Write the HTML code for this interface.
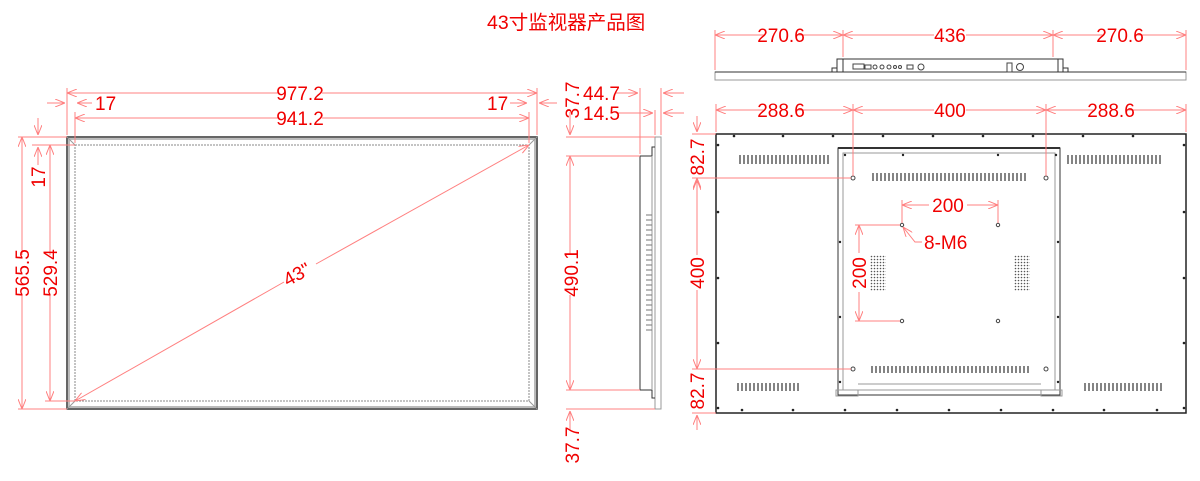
<!DOCTYPE html>
<html><head><meta charset="utf-8"><style>
html,body{margin:0;padding:0;background:#fff;width:1200px;height:481px;overflow:hidden}
svg{display:block}
.t{font-family:"Liberation Sans Narrow","Liberation Sans",sans-serif;font-size:19px;fill:#f00000}
.d{stroke:#ff8080;stroke-width:1;fill:none}
.k{stroke:#333;fill:none}
.g{stroke:#999;fill:none}
</style></head><body>
<svg width="1200" height="481" viewBox="0 0 1200 481" xmlns="http://www.w3.org/2000/svg">
<defs>
<marker id="a" markerWidth="10" markerHeight="8" refX="10" refY="4" orient="auto-start-reverse" markerUnits="userSpaceOnUse"><path d="M0,0 L10,4 L0,8" fill="none" stroke="#ff8080"/></marker>
<pattern id="p" width="3" height="3" patternUnits="userSpaceOnUse"><circle cx="1.5" cy="1.5" r="0.8" fill="#555"/></pattern>
</defs>
<text x="487" y="29" style="font-family:'Liberation Sans','Noto Sans CJK SC',sans-serif;font-size:19.5px;fill:#f00000">43寸监视器产品图</text>

<!-- FRONT VIEW -->
<rect x="67" y="137" width="470" height="272" class="k" stroke-width="1.5"/>
<rect x="69" y="139" width="466" height="268" stroke="#bbb" fill="none" stroke-width="2"/>
<rect x="75" y="145" width="454" height="256" stroke="#888" fill="none" stroke-dasharray="2,1"/>
<path d="M67 137L75 145M537 137L529 145M67 409L75 401M537 409L529 401" class="g"/>
<path d="M67 88V135M537 88V135M75 112V143M529 112V143" class="d"/>
<path d="M67 93H278M322 93H537" class="d" marker-start="url(#a)" marker-end="url(#a)"/>
<text class="t" x="300" y="100" text-anchor="middle">977.2</text>
<path d="M75 118H278M322 118H529" class="d" marker-start="url(#a)" marker-end="url(#a)"/>
<text class="t" x="300" y="125" text-anchor="middle">941.2</text>
<path d="M47 103H65" class="d" marker-end="url(#a)"/><path d="M92 103H77" class="d" marker-end="url(#a)"/>
<text class="t" x="95" y="110">17</text>
<path d="M510 103H527" class="d" marker-end="url(#a)"/><path d="M557 103H539" class="d" marker-end="url(#a)"/>
<text class="t" x="487" y="110">17</text>
<path d="M18 137H67M18 409H67M32 145H75M45 401H75" class="d"/>
<path d="M22 137V255M22 295V409" class="d" marker-start="url(#a)" marker-end="url(#a)"/>
<text class="t" transform="translate(29 273) rotate(-90)" text-anchor="middle">565.5</text>
<path d="M50 145V255M50 295V401" class="d" marker-start="url(#a)" marker-end="url(#a)"/>
<text class="t" transform="translate(57 273) rotate(-90)" text-anchor="middle">529.4</text>
<path d="M38 118V135" class="d" marker-end="url(#a)"/><path d="M38 165V147" class="d" marker-end="url(#a)"/>
<text class="t" transform="translate(45 177) rotate(-90)" text-anchor="middle">17</text>
<path d="M75 401L284 282M316 264L529 145" class="d" marker-start="url(#a)" marker-end="url(#a)"/>
<text class="t" transform="translate(300 280) rotate(-29)" text-anchor="middle">43"</text>

<!-- SIDE VIEW -->
<rect x="655" y="137" width="6" height="272" class="g"/>
<path d="M655 147H652V156H640V390H652V398H655" class="k"/>
<path d="M652 156V390" class="g"/>
<g stroke="#777"><path d="M646 215h6M646 220h6M646 225h6M646 230h6M646 235h6M646 240h6M646 245h6M646 250h6M646 255h6M646 260h6M646 265h6M646 270h6M646 275h6M646 280h6M646 285h6M646 290h6M646 295h6M646 300h6M646 305h6M646 310h6M646 315h6M646 320h6M646 325h6M646 330h6"/></g>
<path d="M566 137H655M566 156H640M566 390H640M566 409H655M640 88V154M661 88V135M655 110V135" class="d"/>
<path d="M616 93H638" class="d" marker-end="url(#a)"/><path d="M684 93H663" class="d" marker-end="url(#a)"/>
<text class="t" x="583" y="100">44.7</text>
<path d="M616 113H653" class="d" marker-end="url(#a)"/><path d="M684 113H663" class="d" marker-end="url(#a)"/>
<text class="t" x="583" y="120">14.5</text>
<path d="M570 112V135" class="d" marker-end="url(#a)"/>
<text class="t" transform="translate(579 100) rotate(-90)" text-anchor="middle">37.7</text>
<path d="M570 156V255M570 295V390" class="d" marker-start="url(#a)" marker-end="url(#a)"/>
<text class="t" transform="translate(578 273) rotate(-90)" text-anchor="middle">490.1</text>
<path d="M570 430V411" class="d" marker-end="url(#a)"/>
<text class="t" transform="translate(579 445) rotate(-90)" text-anchor="middle">37.7</text>

<!-- TOP VIEW -->
<rect x="715" y="72" width="471" height="8" class="g"/>
<path d="M715 72H1186" class="k"/>
<path d="M832 72V68H837V59H1063V68H1068V72" class="k"/>
<path d="M837 59V72M1063 59V72M843 59V72M1058 59V72" class="k"/>
<g fill="none" stroke="#444"><rect x="853" y="64" width="11" height="5"/><rect x="865" y="65" width="6" height="4"/><circle cx="875" cy="67" r="2"/><circle cx="882" cy="67" r="2"/><circle cx="889" cy="67" r="2"/><circle cx="895" cy="67" r="1.5"/><circle cx="900" cy="67" r="1.5"/><rect x="907" y="65" width="6" height="4"/><circle cx="921" cy="67" r="3"/><rect x="1007" y="63" width="5" height="9"/><circle cx="1020" cy="67" r="3.5"/></g>
<path d="M715 30V70M843 30V57M1053 30V57M1186 30V70" class="d"/>
<path d="M715 35H765M797 35H843" class="d" marker-start="url(#a)" marker-end="url(#a)"/>
<text class="t" x="781" y="42" text-anchor="middle">270.6</text>
<path d="M843 35H934M966 35H1053" class="d" marker-start="url(#a)" marker-end="url(#a)"/>
<text class="t" x="950" y="42" text-anchor="middle">436</text>
<path d="M1053 35H1104M1136 35H1186" class="d" marker-start="url(#a)" marker-end="url(#a)"/>
<text class="t" x="1120" y="42" text-anchor="middle">270.6</text>

<!-- BACK VIEW -->
<rect x="716" y="134" width="470" height="279" stroke="#222" stroke-width="1.5" fill="none"/>
<rect x="838" y="148" width="222" height="247" class="k" stroke-width="1"/>
<path d="M843 153H1055V390H843Z" class="g"/>
<path d="M838 148H1060" class="k" stroke-width="2"/>
<path d="M836 390H858V396H836ZM1041 390H1062V396H1041Z" class="g"/>
<path d="M858 384H1041" class="g"/>
<g fill="#222">
<circle cx="734" cy="136" r="1.3"/><circle cx="783" cy="136" r="1.3"/><circle cx="833" cy="136" r="1.3"/><circle cx="883" cy="136" r="1.3"/><circle cx="933" cy="136" r="1.3"/><circle cx="983" cy="136" r="1.3"/><circle cx="1033" cy="136" r="1.3"/><circle cx="1083" cy="136" r="1.3"/><circle cx="1133" cy="136" r="1.3"/>
<circle cx="742" cy="410" r="1.3"/><circle cx="793" cy="410" r="1.3"/><circle cx="845" cy="410" r="1.3"/><circle cx="897" cy="410" r="1.3"/><circle cx="949" cy="410" r="1.3"/><circle cx="1001" cy="410" r="1.3"/><circle cx="1053" cy="410" r="1.3"/><circle cx="1104" cy="410" r="1.3"/><circle cx="1157" cy="410" r="1.3"/>
<circle cx="718" cy="145" r="1.3"/><circle cx="718" cy="212" r="1.3"/><circle cx="718" cy="278" r="1.3"/><circle cx="718" cy="343" r="1.3"/><circle cx="718" cy="408" r="1.3"/>
<circle cx="1184" cy="145" r="1.3"/><circle cx="1184" cy="212" r="1.3"/><circle cx="1184" cy="278" r="1.3"/><circle cx="1184" cy="343" r="1.3"/><circle cx="1184" cy="408" r="1.3"/>
<circle cx="845" cy="155" r="1.2"/><circle cx="903" cy="155" r="1.2"/><circle cx="998" cy="155" r="1.2"/><circle cx="1056" cy="155" r="1.2"/>
<circle cx="840" cy="242" r="1.2"/><circle cx="840" cy="317" r="1.2"/><circle cx="840" cy="382" r="1.2"/><circle cx="1058" cy="242" r="1.2"/><circle cx="1058" cy="317" r="1.2"/><circle cx="1058" cy="382" r="1.2"/>
</g>
<g fill="none" stroke="#444"><circle cx="853" cy="178" r="2"/><circle cx="1046" cy="178" r="2"/><circle cx="853" cy="369" r="2"/><circle cx="1046" cy="369" r="2"/><circle cx="902" cy="225" r="1.7"/><circle cx="998" cy="225" r="1.7"/><circle cx="902" cy="321" r="1.7"/><circle cx="998" cy="321" r="1.7"/></g>
<path d="M740 155v9M744 155v9M748 155v9M752 155v9M756 155v9M760 155v9M764 155v9M768 155v9M772 155v9M776 155v9M780 155v9M784 155v9M788 155v9M792 155v9M796 155v9M800 155v9M804 155v9M808 155v9M812 155v9M816 155v9M820 155v9M824 155v9M828 155v9
M1068 155v9M1072 155v9M1076 155v9M1080 155v9M1084 155v9M1088 155v9M1092 155v9M1096 155v9M1100 155v9M1104 155v9M1108 155v9M1112 155v9M1116 155v9M1120 155v9M1124 155v9M1128 155v9M1132 155v9M1136 155v9M1140 155v9M1144 155v9M1148 155v9M1152 155v9M1156 155v9M1160 155v9
M873 173v8M877 173v8M881 173v8M885 173v8M889 173v8M893 173v8M897 173v8M901 173v8M905 173v8M909 173v8M913 173v8M917 173v8M921 173v8M925 173v8M929 173v8M933 173v8M937 173v8M941 173v8M945 173v8M949 173v8M953 173v8M957 173v8M961 173v8M965 173v8M969 173v8M973 173v8M977 173v8M981 173v8M985 173v8M989 173v8M993 173v8M997 173v8M1001 173v8M1005 173v8M1009 173v8M1013 173v8M1017 173v8M1021 173v8M1025 173v8
M872 366v7M876 366v7M880 366v7M884 366v7M888 366v7M892 366v7M896 366v7M900 366v7M904 366v7M908 366v7M912 366v7M916 366v7M920 366v7M924 366v7M928 366v7M932 366v7M936 366v7M940 366v7M944 366v7M948 366v7M952 366v7M956 366v7M960 366v7M964 366v7M968 366v7M972 366v7M976 366v7M980 366v7M984 366v7M988 366v7M992 366v7M996 366v7M1000 366v7M1004 366v7M1008 366v7M1012 366v7M1016 366v7M1020 366v7M1024 366v7M1028 366v7
M738 383v8M742 383v8M746 383v8M750 383v8M754 383v8M758 383v8M762 383v8M766 383v8M770 383v8M774 383v8M778 383v8M782 383v8M786 383v8M790 383v8M794 383v8M798 383v8
M1085 383v8M1089 383v8M1093 383v8M1097 383v8M1101 383v8M1105 383v8M1109 383v8M1113 383v8M1117 383v8M1121 383v8M1125 383v8M1129 383v8M1133 383v8M1137 383v8M1141 383v8M1145 383v8M1149 383v8M1153 383v8M1157 383v8M1161 383v8" stroke="#333" stroke-width="1.2"/>
<rect x="870" y="255" width="16" height="36" fill="url(#p)"/>
<rect x="1014" y="255" width="16" height="36" fill="url(#p)"/>
<path d="M716 104V132M853 104V176M1046 104V176M1186 104V132" class="d"/>
<path d="M716 110H765M797 110H853" class="d" marker-start="url(#a)" marker-end="url(#a)"/>
<text class="t" x="781" y="117" text-anchor="middle">288.6</text>
<path d="M853 110H934M966 110H1046" class="d" marker-start="url(#a)" marker-end="url(#a)"/>
<text class="t" x="950" y="117" text-anchor="middle">400</text>
<path d="M1046 110H1094M1128 110H1186" class="d" marker-start="url(#a)" marker-end="url(#a)"/>
<text class="t" x="1111" y="117" text-anchor="middle">288.6</text>
<path d="M692 134H716M692 178H851M692 369H851M692 413H716" class="d"/>
<path d="M697 116V132" class="d" marker-end="url(#a)"/>
<path d="M697 196V180" class="d" marker-end="url(#a)"/>
<text class="t" transform="translate(704 157) rotate(-90)" text-anchor="middle">82.7</text>
<path d="M697 178V255M697 290V369" class="d" marker-start="url(#a)" marker-end="url(#a)"/>
<text class="t" transform="translate(704 273) rotate(-90)" text-anchor="middle">400</text>
<path d="M697 430V415" class="d" marker-end="url(#a)"/>
<text class="t" transform="translate(704 391) rotate(-90)" text-anchor="middle">82.7</text>
<path d="M902 200V223M998 200V223M855 225H900M855 321H900" class="d"/>
<path d="M902 205H929M967 205H998" class="d" marker-start="url(#a)" marker-end="url(#a)"/>
<text class="t" x="948" y="212" text-anchor="middle">200</text>
<path d="M859 225V253M859 292V321" class="d" marker-start="url(#a)" marker-end="url(#a)"/>
<text class="t" transform="translate(866 273) rotate(-90)" text-anchor="middle">200</text>
<path d="M922 242H915L903 227" class="d" marker-end="url(#a)"/>
<text class="t" x="924" y="249">8-M6</text>
</svg>
</body></html>
